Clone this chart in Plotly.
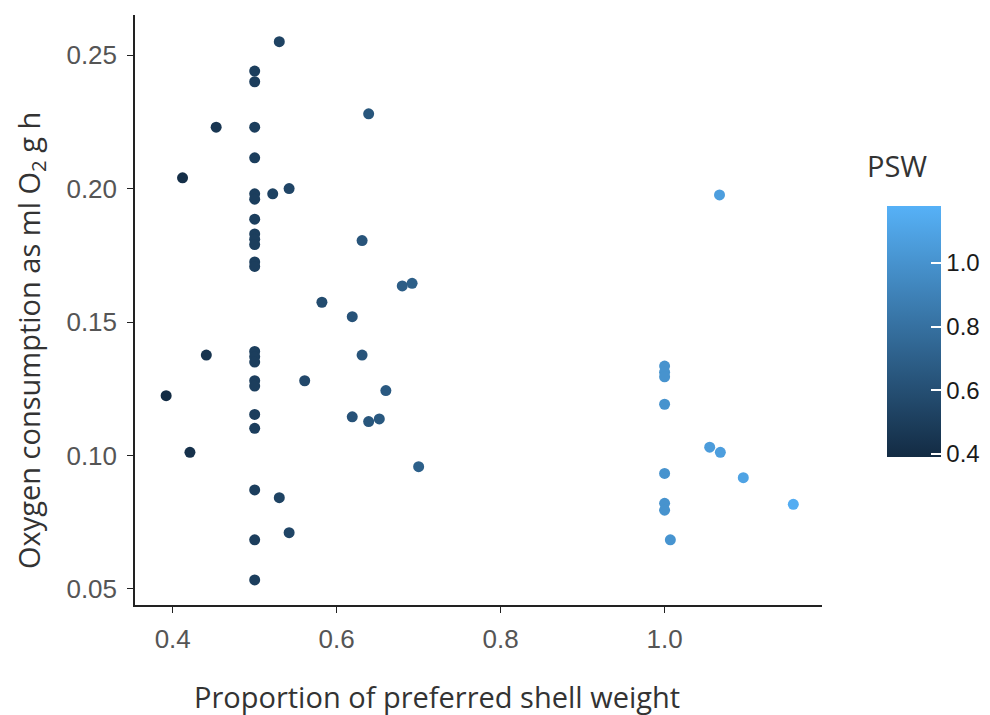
import plotly.graph_objects as go

# Proportion of preferred shell weight (x) and oxygen consumption (y)
psw = [0.53, 0.50, 0.50, 0.453, 0.50, 0.639, 0.50, 0.412,
       0.50, 0.50, 0.522, 0.542, 0.50, 0.50, 0.50, 0.50, 0.50, 0.50,
       0.631, 0.680, 0.692, 0.582, 0.619,
       0.441, 0.50, 0.50, 0.50, 0.631, 0.561, 0.50, 0.50, 0.392, 0.660,
       0.50, 0.619, 0.639, 0.652, 0.50, 0.421, 0.700, 0.50, 0.530,
       0.542, 0.50, 0.50,
       1.00, 1.00, 1.00, 1.00, 1.055, 1.068, 1.096, 1.00, 1.00, 1.00,
       1.157, 1.007, 1.067]
oxygen = [0.255, 0.244, 0.240, 0.223, 0.223, 0.228, 0.2115, 0.204,
          0.198, 0.196, 0.198, 0.200, 0.1885, 0.183, 0.181, 0.179, 0.1725, 0.1708,
          0.1805, 0.1635, 0.1645, 0.1574, 0.152,
          0.1376, 0.139, 0.137, 0.135, 0.1376, 0.128, 0.128, 0.126, 0.1224, 0.1243,
          0.1154, 0.1145, 0.1127, 0.1137, 0.1102, 0.1012, 0.0958, 0.0871, 0.0842,
          0.0711, 0.0684, 0.0534,
          0.1335, 0.1312, 0.1295, 0.1192, 0.1031, 0.1012, 0.0917, 0.0933, 0.0821, 0.0795,
          0.0817, 0.0684, 0.1976]

x_ticks = [0.4, 0.6, 0.8, 1.0]
y_ticks = [0.05, 0.10, 0.15, 0.20, 0.25]
cbar_ticks = [0.4, 0.6, 0.8, 1.0]

# page body has an 8px offset; size the figure so it fits the 990x715 window
OFF = 8
W, H = 990 - OFF, 715 - OFF
L, R, T, B = 135 - OFF, W - (822 - OFF), 15 - OFF, H - (605 - OFF)
PW, PH = W - L - R, H - T - B


def px_x(sx):
    return (sx - OFF - L) / PW


def px_y(sy):
    return (H - B - (sy - OFF)) / PH


fig = go.Figure(go.Scatter(
    x=psw, y=oxygen, mode="markers",
    marker=dict(
        size=11, color=psw,
        colorscale=[[0, "#132B43"], [1, "#56B1F7"]],
        cmin=0.388, cmax=1.178,
        line=dict(width=0),
        colorbar=dict(
            x=px_x(877), xanchor="left",
            y=px_y(332), yanchor="middle",
            lenmode="pixels", len=271, thickness=54,
            outlinewidth=0,
            tickvals=cbar_ticks, ticktext=[f"{v:.1f}" for v in cbar_ticks],
            ticks="inside", ticklen=10, tickcolor="white", tickwidth=1.5,
            tickfont=dict(family="Liberation Sans, Arial", size=24, color="#1a1a1a"),
        ),
    ),
    showlegend=False,
))

fig.add_annotation(
    text="PSW", xref="paper", yref="paper",
    x=px_x(865), y=px_y(166),
    xanchor="left", yanchor="middle", showarrow=False,
    font=dict(family="Open Sans, Noto Sans", size=29, color="#333333"),
)
fig.add_annotation(
    text="Proportion of preferred shell weight", xref="paper", yref="paper",
    x=px_x(437), y=px_y(696), borderpad=0,
    xanchor="center", yanchor="middle", showarrow=False,
    font=dict(family="Open Sans, Noto Sans", size=29, color="#333333"),
)
fig.add_annotation(
    text="Oxygen consumption as ml O<sub>2</sub> g h", xref="paper", yref="paper",
    x=px_x(31), y=px_y(341), textangle=-90, borderpad=0,
    xanchor="center", yanchor="middle", showarrow=False,
    font=dict(family="Open Sans, Noto Sans", size=29, color="#333333"),
)

fig.update_layout(
    width=W, height=H,
    margin=dict(l=L, r=R, t=T, b=B, autoexpand=False),
    plot_bgcolor="white", paper_bgcolor="white",
    xaxis=dict(
        range=[0.354, 1.192], tickvals=x_ticks,
        ticktext=[f"{v:.1f}" for v in x_ticks],
        showgrid=False, zeroline=False, automargin=False,
        showline=True, linecolor="#222222", linewidth=1.5,
        ticks="outside", ticklen=6, tickcolor="#222222", tickwidth=1.2,
        ticklabelstandoff=4,
        tickfont=dict(family="Liberation Sans, Arial", size=26, color="#555555"),
    ),
    yaxis=dict(
        range=[0.044, 0.265], tickvals=y_ticks,
        ticktext=[f"{v:.2f}" for v in y_ticks],
        showgrid=False, zeroline=False, automargin=False,
        showline=True, linecolor="#222222", linewidth=1.5,
        ticks="outside", ticklen=6, tickcolor="#222222", tickwidth=1.2,
        ticklabelstandoff=5,
        tickfont=dict(family="Liberation Sans, Arial", size=26, color="#555555"),
    ),
)

fig.write_html("out.html")
